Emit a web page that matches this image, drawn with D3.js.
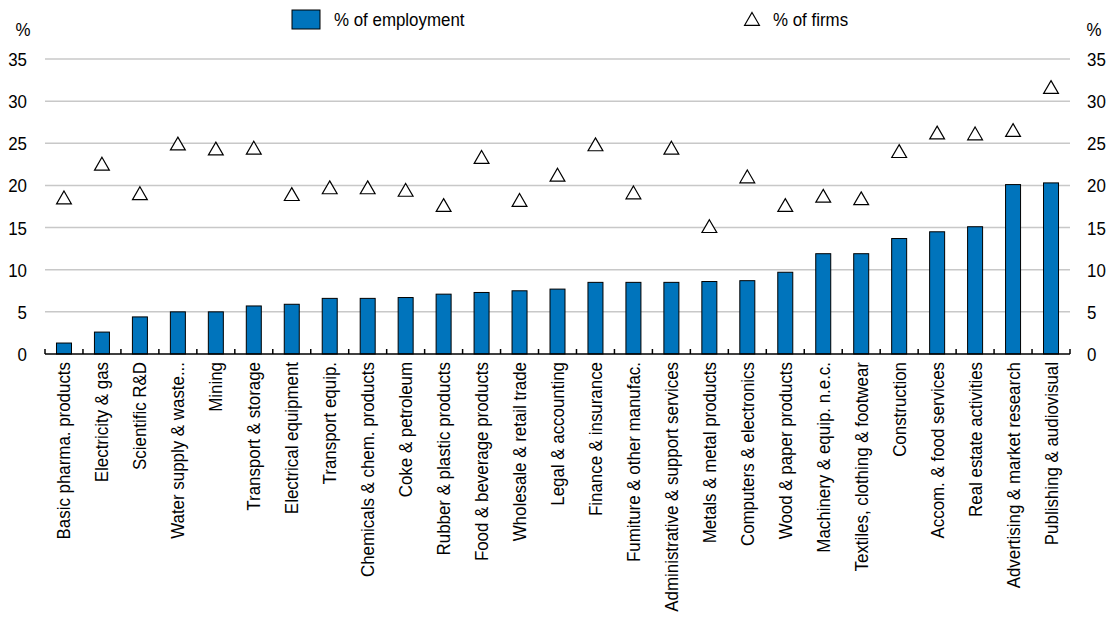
<!DOCTYPE html>
<html>
<head>
<meta charset="utf-8">
<script src="https://cdn.jsdelivr.net/npm/d3@7"></script>
<style>
  html, body { margin: 0; padding: 0; background: #fff; }
  svg { display: block; font-family: "Liberation Sans", Arial, sans-serif; }
</style>
</head>
<body>
<svg id="chart" width="1110" height="618"></svg>
<script>
// Industries, ordered by share of employment
const categories = [
  "Basic pharma. products", "Electricity & gas", "Scientific R&D", "Water supply & waste...",
  "Mining", "Transport & storage", "Electrical equipment", "Transport equip.",
  "Chemicals & chem. products", "Coke & petroleum", "Rubber & plastic products",
  "Food & beverage products", "Wholesale & retail trade", "Legal & accounting",
  "Finance & insurance", "Fumiture & other manufac.", "Administrative & support services",
  "Metals & metal products", "Computers & electronics", "Wood & paper products",
  "Machinery & equip. n.e.c.", "Textiles, clothing & footwear", "Construction",
  "Accom. & food services", "Real estate activities", "Advertising & market research",
  "Publishing & audiovisual"
];

// % of employment (bars)
const employment = [
  1.3, 2.6, 4.4, 5.0, 5.0, 5.7, 5.9, 6.6, 6.6, 6.7, 7.1, 7.3, 7.5, 7.7,
  8.5, 8.5, 8.5, 8.6, 8.7, 9.7, 11.9, 11.9, 13.7, 14.5, 15.1, 20.1, 20.3
];

// % of firms (triangles)
const firms = [
  18.5, 22.5, 19.0, 24.9, 24.3, 24.4, 18.9, 19.7, 19.7, 19.4, 17.6, 23.3, 18.2, 21.2,
  24.8, 19.1, 24.4, 15.1, 21.0, 17.6, 18.7, 18.4, 24.0, 26.2, 26.1, 26.5, 31.6
];

const yTicks = [0, 5, 10, 15, 20, 25, 30, 35];
const legendLabels = ["% of employment", "% of firms"];

const svg = d3.select("#chart");
const margin = { left: 45, right: 40, top: 59, bottom: 264 };
const W = 1110, H = 618;
const x0 = margin.left, x1 = W - margin.right;
const y0 = H - margin.bottom, y1 = margin.top;

const x = d3.scaleBand().domain(categories).range([x0, x1]).paddingInner(0).paddingOuter(0);
const y = d3.scaleLinear().domain([0, 35]).range([y0, y1]);

const barColor = "#0074BC";
const fontSize = 19;
const squeeze = 0.89;   // slightly condensed lettering

// Helper: condensed text placed at (px, py), optionally rotated
function label(g, px, py, str, anchor, rot) {
  return g.append("text")
    .attr("transform", `translate(${px},${py})${rot ? ` rotate(${rot})` : ""} scale(${squeeze},1)`)
    .attr("text-anchor", anchor || "start")
    .attr("font-size", fontSize)
    .attr("fill", "#000")
    .text(str);
}

// Horizontal gridlines
svg.append("g")
  .selectAll("line")
  .data(yTicks.filter(d => d > 0))
  .join("line")
  .attr("x1", x0).attr("x2", x1)
  .attr("y1", d => y(d)).attr("y2", d => y(d))
  .attr("stroke", "#c8c8c8")
  .attr("stroke-width", 1.5);

// Left and right value labels
const gL = svg.append("g");
const gR = svg.append("g");
yTicks.forEach(t => {
  label(gL, 27, y(t) + 7, t, "end");
  label(gR, 1087, y(t) + 7, t, "start");
});

// Unit labels
label(svg, 23, 36, "%", "middle");
label(svg, 1094, 36, "%", "middle");

// Bars
const barW = 15;
svg.append("g")
  .selectAll("rect")
  .data(categories.map((c, i) => ({ c, v: employment[i] })))
  .join("rect")
  .attr("x", d => x(d.c) + x.bandwidth() / 2 - barW / 2)
  .attr("y", d => y(d.v))
  .attr("width", barW)
  .attr("height", d => y(0) - y(d.v))
  .attr("fill", barColor)
  .attr("stroke", "#000")
  .attr("stroke-width", 1);

// Category axis with short inward ticks at band boundaries
const bounds = categories.map(c => x(c)).concat([x1]);
const gx = svg.append("g");
gx.append("line").attr("x1", x0).attr("x2", x1).attr("y1", y0).attr("y2", y0)
  .attr("stroke", "#000").attr("stroke-width", 1.5);
gx.selectAll("line.tick").data(bounds).join("line").attr("class", "tick")
  .attr("x1", d => d).attr("x2", d => d)
  .attr("y1", y0).attr("y2", y0 - 5)
  .attr("stroke", "#000").attr("stroke-width", 1.5);

// Rotated category labels
const gc = svg.append("g");
categories.forEach(c => {
  label(gc, x(c) + x.bandwidth() / 2 + 6.5, y0 + 8, c, "end", -90);
});

// Triangle markers
const tri = d3.symbol().type(d3.symbolTriangle).size(95);
svg.append("g")
  .selectAll("path")
  .data(categories.map((c, i) => ({ c, v: firms[i] })))
  .join("path")
  .attr("d", tri)
  .attr("transform", d => `translate(${x(d.c) + x.bandwidth() / 2},${y(d.v) + 1.5})`)
  .attr("fill", "#fff")
  .attr("stroke", "#000")
  .attr("stroke-width", 1.2);

// Legend
const lg = svg.append("g");
lg.append("rect").attr("x", 292).attr("y", 10).attr("width", 28).attr("height", 19)
  .attr("fill", barColor).attr("stroke", "#000").attr("stroke-width", 1);
label(lg, 334, 26, legendLabels[0], "start");
lg.append("path").attr("d", tri)
  .attr("transform", "translate(752,21)")
  .attr("fill", "#fff").attr("stroke", "#000").attr("stroke-width", 1.2);
label(lg, 773, 26, legendLabels[1], "start");
</script>
</body>
</html>
